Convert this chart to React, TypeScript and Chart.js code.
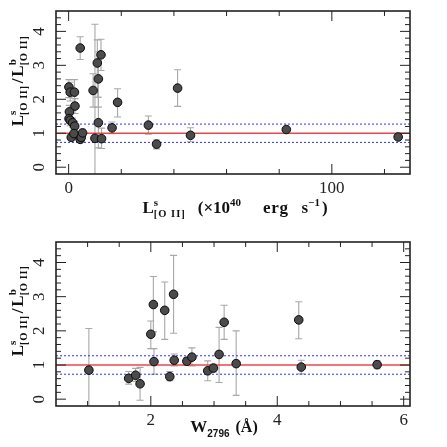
import { useEffect, useRef } from "react";
import { Chart, registerables } from "chart.js";

Chart.register(...registerables);

// top panel: L^s_[O II] (1e40 erg/s) against the ratio L^s/L^b
const lumX = [0.1, 0.6, 2.2, 2.4, 0.3, 0.15, 0.6, 1.5, 2.3, 1.0, 2.0, 4.4, 4.8, 5.3, 4.4, 12.3, 10.9, 11.3, 11.3, 10.0, 12.5, 9.3, 18.6, 16.5, 30.3, 33.4, 41.4, 46.3, 82.7, 125.2];
const lumRatio = [2.36, 2.21, 2.21, 1.80, 1.63, 1.43, 1.38, 1.31, 1.21, 0.88, 0.99, 0.82, 0.88, 1.01, 3.51, 3.31, 3.07, 2.60, 1.31, 0.85, 0.84, 2.26, 1.91, 1.16, 1.24, 0.68, 2.33, 0.94, 1.11, 0.89];
const lumLo = [2.05, 1.95, 1.88, 1.58, 1.45, 1.28, 1.22, 1.18, 1.08, 0.78, 0.88, 0.74, 0.80, 0.92, 3.17, 2.85, 2.06, 1.77, 0.57, -0.5, 0.55, 1.77, 1.48, 0.99, 0.97, 0.54, 1.79, 0.75, 1.05, 0.85];
const lumHi = [2.58, 2.50, 2.58, 2.02, 1.82, 1.60, 1.55, 1.45, 1.35, 0.98, 1.10, 0.90, 0.97, 1.12, 3.84, 3.77, 3.75, 3.40, 2.06, 4.21, 1.15, 2.75, 2.31, 1.33, 1.51, 0.80, 2.87, 1.16, 1.17, 0.93];
const lumMajor = [0, 100];
const lumMinor = [20, 40, 60, 80, 120];

// bottom panel: W_2796 (Angstrom) against the same ratio
const ewX = [1.02, 1.65, 1.76, 1.83, 2.00, 2.04, 2.05, 2.22, 2.30, 2.36, 2.37, 2.57, 2.65, 2.90, 2.99, 3.08, 3.16, 3.35, 4.34, 4.38, 5.58];
const ewRatio = [0.85, 0.61, 0.70, 0.45, 1.90, 2.77, 1.10, 2.60, 0.66, 3.07, 1.14, 1.11, 1.23, 0.83, 0.91, 1.31, 2.25, 1.04, 2.32, 0.94, 1.01];
const ewLo = [-0.4, 0.44, 0.52, -0.03, 1.48, 1.97, 0.73, 1.75, 0.54, 1.93, 0.97, 1.00, 0.97, 0.54, 0.80, 0.49, 1.75, 0.11, 1.77, 0.74, 0.89];
const ewHi = [2.07, 0.81, 0.90, 0.93, 2.29, 3.59, 1.48, 3.43, 0.81, 4.21, 1.32, 1.22, 1.50, 1.12, 1.02, 2.10, 2.75, 2.00, 2.85, 1.14, 1.12];
const ewMajor = [2, 4, 6];
const ewMinor = [1, 1.5, 2.5, 3, 3.5, 4.5, 5, 5.5];

const ratioMajor = [0, 1, 2, 3, 4];
const ratioMinor = [0.2, 0.4, 0.6, 0.8, 1.2, 1.4, 1.6, 1.8, 2.2, 2.4, 2.6, 2.8, 3.2, 3.4, 3.6, 3.8, 4.2, 4.4];
const refLine = 1;
const bandLo = 0.73;
const bandHi = 1.27;

const SERIF = '"Liberation Serif", "DejaVu Serif", serif';
const SANS = '"Liberation Sans", "DejaVu Sans", sans-serif';

type Seg = { t: string; px: number; bold?: boolean; dy?: number; stack?: boolean; fam?: string; gap?: number; ls?: number };

const drawRich = (ctx: CanvasRenderingContext2D, segs: Seg[], x: number, y: number, rot: number) => {
    const font = (s: Seg) => `${s.bold ? "bold " : ""}${s.px}px ${s.fam ?? SERIF}`;
    const setup = (s: Seg) => {
        ctx.font = font(s);
        (ctx as any).letterSpacing = `${s.ls ?? 0}px`;
    };
    ctx.save();
    ctx.translate(x, y);
    ctx.rotate(rot);
    ctx.textAlign = "left";
    ctx.textBaseline = "alphabetic";
    ctx.fillStyle = "#111";
    let cur = 0, start = 0, prevW = 0;
    const pos: number[] = [];
    for (const s of segs) {
        setup(s);
        const w = ctx.measureText(s.t).width;
        if (s.stack) {
            pos.push(start);
            prevW = Math.max(prevW, w);
            cur = start + prevW;
        } else {
            start = cur + (s.gap ?? 0);
            pos.push(start);
            cur = start + w;
            prevW = w;
        }
    }
    const off = -cur / 2;
    segs.forEach((s, i) => {
        setup(s);
        ctx.fillText(s.t, off + pos[i], s.dy ?? 0);
    });
    ctx.restore();
};

const ratioTitle: Seg[] = [
    { t: "L", px: 17, bold: true },
    { t: "s", px: 11, bold: true, dy: -7 },
    { t: "[O II]", px: 10.5, bold: true, dy: 4, stack: true, ls: 0.6 },
    { t: "/", px: 17, bold: true, gap: 2 },
    { t: "L", px: 17, bold: true, gap: 2 },
    { t: "b", px: 11, bold: true, dy: -7 },
    { t: "[O II]", px: 10.5, bold: true, dy: 4, stack: true, ls: 0.6 },
];

const lumTitle: Seg[] = [
    { t: "L", px: 17, bold: true },
    { t: "s", px: 11, bold: true, dy: -7 },
    { t: "[O II]", px: 10.5, bold: true, dy: 4, stack: true, ls: 1 },
    { t: "(×10", px: 17, bold: true, gap: 12 },
    { t: "40", px: 11, bold: true, dy: -7 },
    { t: "erg", px: 17, bold: true, gap: 22, ls: 0.6 },
    { t: "s", px: 17, bold: true, gap: 13 },
    { t: "−1", px: 11, bold: true, dy: -7 },
    { t: ")", px: 17, bold: true, gap: 2 },
];

const ewTitle: Seg[] = [
    { t: "W", px: 17, bold: true },
    { t: "2796", px: 10, bold: true, dy: 5, fam: SANS },
    { t: "(Å)", px: 16, bold: true, gap: 6 },
];

type PanelProps = {
    xs: number[]; ys: number[]; lo: number[]; hi: number[];
    xMin: number; xMax: number; xMajor: number[]; xMinor: number[];
    height: number; pad: { left: number; right: number; top: number; bottom: number };
    xTitle: Seg[]; xTitleX: number; xTitleY: number; xLabelY: number; yTitleY: number;
};

const Panel = (p: PanelProps) => {
    const chartRef = useRef<HTMLCanvasElement>(null);
    const chartInstance = useRef<Chart | null>(null);

    useEffect(() => {
        if (!chartRef.current) return;
        if (chartInstance.current) chartInstance.current.destroy();
        const ctx = chartRef.current.getContext("2d");
        if (!ctx) return;

        const errorBars = {
            id: "errorBars",
            beforeDatasetsDraw(chart: Chart) {
                const { ctx: c, chartArea: a } = chart;
                const sx = chart.scales.x, sy = chart.scales.y;
                c.save();
                c.beginPath();
                c.rect(a.left, a.top, a.width, a.height);
                c.clip();
                c.strokeStyle = "#a8a8a8";
                c.lineWidth = 1.1;
                p.xs.forEach((xv, i) => {
                    const px = sx.getPixelForValue(xv);
                    const y1 = sy.getPixelForValue(p.lo[i]);
                    const y2 = sy.getPixelForValue(p.hi[i]);
                    c.beginPath();
                    c.moveTo(px, y1);
                    c.lineTo(px, y2);
                    c.moveTo(px - 3.5, y1);
                    c.lineTo(px + 3.5, y1);
                    c.moveTo(px - 3.5, y2);
                    c.lineTo(px + 3.5, y2);
                    c.stroke();
                });
                c.restore();
            },
        };

        const frame = {
            id: "frame",
            afterDraw(chart: Chart) {
                const { ctx: c, chartArea: a } = chart;
                const sx = chart.scales.x, sy = chart.scales.y;
                c.save();
                c.strokeStyle = "#222";
                c.lineWidth = 1;
                const vt = (v: number, len: number) => {
                    const x = sx.getPixelForValue(v);
                    c.beginPath();
                    c.moveTo(x, a.bottom); c.lineTo(x, a.bottom - len);
                    c.moveTo(x, a.top); c.lineTo(x, a.top + len);
                    c.stroke();
                };
                const ht = (v: number, len: number) => {
                    const y = sy.getPixelForValue(v);
                    c.beginPath();
                    c.moveTo(a.left, y); c.lineTo(a.left + len, y);
                    c.moveTo(a.right, y); c.lineTo(a.right - len, y);
                    c.stroke();
                };
                p.xMajor.forEach(v => vt(v, 10));
                p.xMinor.forEach(v => vt(v, 5));
                ratioMajor.forEach(v => ht(v, 10));
                ratioMinor.forEach(v => ht(v, 5));
                c.lineWidth = 1.6;
                c.strokeRect(a.left, a.top, a.width, a.height);

                c.fillStyle = "#222";
                c.font = `17px ${SERIF}`;
                c.textAlign = "center";
                c.textBaseline = "middle";
                p.xMajor.forEach(v => c.fillText(String(v), sx.getPixelForValue(v), p.xLabelY));
                ratioMajor.forEach(v => {
                    c.save();
                    c.translate(40, sy.getPixelForValue(v));
                    c.rotate(-Math.PI / 2);
                    c.fillText(String(v), 0, 0);
                    c.restore();
                });
                c.restore();

                drawRich(c, p.xTitle, p.xTitleX, p.xTitleY, 0);
                drawRich(c, ratioTitle, 23, p.yTitleY, -Math.PI / 2);
            },
        };

        const hline = (y: number) => [{ x: p.xMin, y }, { x: p.xMax, y }];

        chartInstance.current = new Chart(ctx, {
            type: "scatter",
            data: {
                datasets: [
                    {
                        data: p.xs.map((x, i) => ({ x, y: p.ys[i] })),
                        pointRadius: 4.3,
                        backgroundColor: "#4b4b4b",
                        borderColor: "#0a0a0a",
                        borderWidth: 1,
                        order: 0,
                    },
                    {
                        data: hline(refLine),
                        showLine: true,
                        pointRadius: 0,
                        borderColor: "#e8484c",
                        borderWidth: 1.4,
                        order: 1,
                    },
                    {
                        data: hline(bandHi),
                        showLine: true,
                        pointRadius: 0,
                        borderColor: "#2f2fff",
                        borderWidth: 1,
                        borderDash: [2, 2],
                        order: 2,
                    },
                    {
                        data: hline(bandLo),
                        showLine: true,
                        pointRadius: 0,
                        borderColor: "#2f2fff",
                        borderWidth: 1,
                        borderDash: [2, 2],
                        order: 2,
                    },
                ],
            },
            options: {
                animation: false,
                responsive: true,
                maintainAspectRatio: false,
                layout: { padding: p.pad },
                plugins: { legend: { display: false }, tooltip: { enabled: false } },
                scales: {
                    x: { type: "linear", min: p.xMin, max: p.xMax, display: false },
                    y: { type: "linear", min: -0.2, max: 4.6, display: false },
                },
            },
            plugins: [errorBars, frame],
        });

        return () => {
            if (chartInstance.current) {
                chartInstance.current.destroy();
                chartInstance.current = null;
            }
        };
    }, []);

    return (
        <div style={{ position: "relative", width: 447, height: p.height }}>
            <canvas ref={chartRef}></canvas>
        </div>
    );
};

export default function App() {
    return (
        <div style={{ position: "fixed", left: 0, top: 0, width: 447, height: 447, background: "#fff" }}>
            <Panel
                xs={lumX} ys={lumRatio} lo={lumLo} hi={lumHi}
                xMin={-4.8} xMax={129.7} xMajor={lumMajor} xMinor={lumMinor}
                height={224} pad={{ left: 56, right: 37, top: 11, bottom: 50 }}
                xTitle={lumTitle} xTitleX={235} xTitleY={213} xLabelY={189} yTitleY={81}
            />
            <Panel
                xs={ewX} ys={ewRatio} lo={ewLo} hi={ewHi}
                xMin={0.5} xMax={6.1} xMajor={ewMajor} xMinor={ewMinor}
                height={223} pad={{ left: 56, right: 37, top: 18, bottom: 41 }}
                xTitle={ewTitle} xTitleX={224} xTitleY={208} xLabelY={197} yTitleY={87}
            />
        </div>
    );
}
